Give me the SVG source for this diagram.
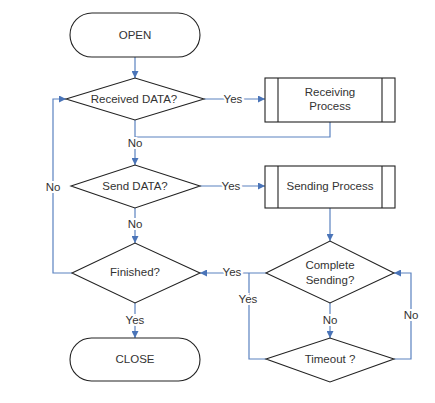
<svg xmlns="http://www.w3.org/2000/svg" width="435" height="403" viewBox="0 0 435 403">
<style>
.s{fill:#fff;stroke:#222;stroke-width:1.1}
.t{font-family:"Liberation Sans",Arial,sans-serif;font-size:11.5px;fill:#333;text-anchor:middle;dominant-baseline:central}
.c{fill:none;stroke:#5a82c0;stroke-width:1.2}
.l{font-family:"Liberation Sans",Arial,sans-serif;font-size:11.5px;fill:#333;text-anchor:middle;dominant-baseline:central;stroke:#fff;stroke-width:4;paint-order:stroke}
</style>
<defs>
<marker id="a" viewBox="0 0 10 10" refX="10" refY="5" markerWidth="7" markerHeight="7" markerUnits="userSpaceOnUse" orient="auto">
<path d="M0,0 L10,5 L0,10 z" fill="#4a74b8"/>
</marker>
</defs>
<rect width="435" height="403" fill="#fff"/>
<g id="connectors">
<path class="c" d="M135,57 V78" marker-end="url(#a)"/>
<path class="c" d="M204,99 H265" marker-end="url(#a)"/>
<path class="c" d="M135,120 V165" marker-end="url(#a)"/>
<path class="c" d="M330,122 V137 H135"/>
<path class="c" d="M200,186 H265" marker-end="url(#a)"/>
<path class="c" d="M135,208 V243" marker-end="url(#a)"/>
<path class="c" d="M72,273 H53 V99 H66" marker-end="url(#a)"/>
<path class="c" d="M135,303 V338" marker-end="url(#a)"/>
<path class="c" d="M330,208 V241" marker-end="url(#a)"/>
<path class="c" d="M266,273 H200" marker-end="url(#a)"/>
<path class="c" d="M249,273 V359 H266"/>
<path class="c" d="M330,303 V338" marker-end="url(#a)"/>
<path class="c" d="M394,359 H411 V273 H394" marker-end="url(#a)"/>
<text class="l" x="233" y="99">Yes</text>
<text class="l" x="135" y="143">No</text>
<text class="l" x="231" y="186">Yes</text>
<text class="l" x="135" y="224">No</text>
<text class="l" x="53" y="187">No</text>
<text class="l" x="135" y="320">Yes</text>
<text class="l" x="232" y="272">Yes</text>
<text class="l" x="248" y="299">Yes</text>
<text class="l" x="330" y="320">No</text>
<text class="l" x="411" y="315">No</text>
</g>
<g id="open">
<rect class="s" x="70" y="13" width="130" height="44" rx="22"/>
<text class="t" x="135" y="35">OPEN</text>
</g>
<g id="received">
<path class="s" d="M66,99 L135,78 L204,99 L135,120 Z"/>
<text class="t" x="134" y="99">Received DATA?</text>
</g>
<g id="receiving">
<rect class="s" x="265" y="78" width="130" height="44"/>
<path class="s" d="M278,78 V122 M382,78 V122"/>
<text class="t" x="330" y="92">Receiving</text>
<text class="t" x="330" y="106">Process</text>
</g>
<g id="send">
<path class="s" d="M71,186 L135,165 L200,186 L135,208 Z"/>
<text class="t" x="135" y="186">Send DATA?</text>
</g>
<g id="sending">
<rect class="s" x="265" y="166" width="130" height="42"/>
<path class="s" d="M278,166 V208 M382,166 V208"/>
<text class="t" x="330" y="186">Sending Process</text>
</g>
<g id="finished">
<path class="s" d="M72,273 L135,243 L200,273 L135,303 Z"/>
<text class="t" x="135" y="272">Finished?</text>
</g>
<g id="close">
<rect class="s" x="70" y="338" width="130" height="43" rx="21.5"/>
<text class="t" x="135" y="359">CLOSE</text>
</g>
<g id="complete">
<path class="s" d="M266,273 L330,241 L394,273 L330,303 Z"/>
<text class="t" x="330" y="265">Complete</text>
<text class="t" x="330" y="280">Sending?</text>
</g>
<g id="timeout">
<path class="s" d="M266,359 L330,338 L394,359 L330,382 Z"/>
<text class="t" x="330" y="359">Timeout ?</text>
</g>
</svg>
